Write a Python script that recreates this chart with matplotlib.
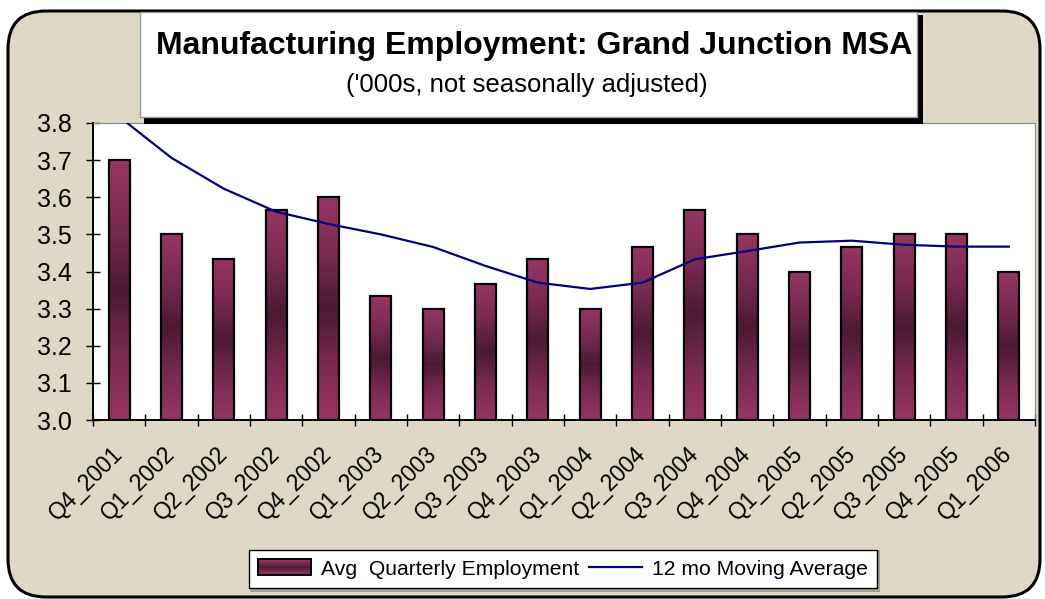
import numpy as np
import matplotlib
matplotlib.use("Agg")
import matplotlib.pyplot as plt
from matplotlib.patches import FancyBboxPatch, Rectangle
from matplotlib.transforms import IdentityTransform
from matplotlib.legend_handler import HandlerPatch
from matplotlib.colors import LinearSegmentedColormap

plt.rcParams['font.family'] = ['Liberation Sans', 'DejaVu Sans']

quarters = ['Q4_2001', 'Q1_2002', 'Q2_2002', 'Q3_2002', 'Q4_2002', 'Q1_2003',
            'Q2_2003', 'Q3_2003', 'Q4_2003', 'Q1_2004', 'Q2_2004', 'Q3_2004',
            'Q4_2004', 'Q1_2005', 'Q2_2005', 'Q3_2005', 'Q4_2005', 'Q1_2006']
employment = [3.700, 3.500, 3.433, 3.567, 3.600, 3.333, 3.300, 3.367, 3.433,
              3.300, 3.467, 3.567, 3.500, 3.400, 3.467, 3.500, 3.500, 3.400]
moving_avg = [3.817, 3.706, 3.623, 3.561, 3.528, 3.500, 3.466, 3.415, 3.370,
              3.353, 3.370, 3.433, 3.455, 3.478, 3.483, 3.472, 3.467, 3.467]
y_ticks = [3.0, 3.1, 3.2, 3.3, 3.4, 3.5, 3.6, 3.7, 3.8]

W, H = 1045, 599
light = '#973563'
dark = '#4a1a32'
cmap = LinearSegmentedColormap.from_list('bar', [light, '#7a2a52', dark, '#7a2a52', light])


def px(x, y):
    # image pixel coords (origin top-left) -> display coords
    return x, H - y


fig = plt.figure(figsize=(W / 100, H / 100), dpi=100)
fig.patch.set_facecolor('white')
ident = IdentityTransform()

# parchment background with rounded border
bx, by = px(8, 597)
bg = FancyBboxPatch((bx, by), 1032, 586, boxstyle="round,pad=0,rounding_size=38",
                    transform=ident, fc='#e0d8c6', ec='black', lw=2.2, zorder=-5)
fig.add_artist(bg)

ax = fig.add_axes([93 / W, 1 - 420 / H, (1035 - 93) / W, (420 - 123) / H])
ax.set_facecolor('white')

x = np.arange(len(quarters))
base = y_ticks[0]
bars = ax.bar(x, np.array(employment) - base, bottom=base, width=0.4,
              facecolor='none', edgecolor='black', linewidth=1.6, zorder=3)
grad = np.linspace(0, 1, 256).reshape(-1, 1)
for b in bars:
    bx0, by0 = b.get_x(), b.get_y()
    im = ax.imshow(grad, cmap=cmap, aspect='auto', zorder=2,
                   extent=[bx0, bx0 + b.get_width(), by0, by0 + b.get_height()])
    im.set_clip_path(b)

line, = ax.plot(x, moving_avg, color='#000080', lw=1.6, zorder=4)

ax.set_xlim(-0.5, len(quarters) - 0.5)
ax.set_ylim(3.0, 3.8)
ax.set_yticks(y_ticks)
ax.set_yticklabels([f'{v:.1f}' for v in y_ticks], fontsize=18)
ax.set_xticks(x)
ax.set_xticklabels(quarters, rotation=45, ha='right', va='center',
                   rotation_mode='anchor', fontsize=16.5)
ax.set_xticks(np.arange(-0.5, len(quarters), 1.0), minor=True)
ax.tick_params(axis='x', which='major', length=0, pad=22)
ax.tick_params(axis='x', which='minor', length=9, direction='inout', width=1)
ax.tick_params(axis='y', length=10, direction='inout', width=1, pad=10)
for s in ['top', 'right']:
    ax.spines[s].set_color('#888888')
for s in ['left', 'bottom']:
    ax.spines[s].set_color('black')
    ax.spines[s].set_linewidth(1.4)

# title box with shadow
sx, sy = px(144, 124)
fig.add_artist(Rectangle((sx, sy), 923 - 144, 124 - 15, transform=ident,
                         fc='black', ec='none', zorder=5))
tx, ty = px(140, 117)
fig.add_artist(Rectangle((tx, ty), 917 - 140, 117 - 12, transform=ident,
                         fc='white', ec='#999999', lw=1, zorder=6))
fig.text(*px(534, 46), 'Manufacturing Employment: Grand Junction MSA',
         transform=ident, ha='center', va='center', fontsize=23,
         fontweight='bold', zorder=7)
fig.text(*px(527, 85), "('000s, not seasonally adjusted)",
         transform=ident, ha='center', va='center', fontsize=18.5, zorder=7)


class GradHandler(HandlerPatch):
    def create_artists(self, legend, orig_handle, xdescent, ydescent,
                       width, height, fontsize, trans):
        arts = []
        n = 12
        for i in range(n):
            c = cmap((i + 0.5) / n)
            r = Rectangle((-xdescent, -ydescent + height * i / n), width, height / n,
                          fc=c, ec='none', transform=trans)
            arts.append(r)
        arts.append(Rectangle((-xdescent, -ydescent), width, height, fc='none',
                              ec='black', lw=1.4, transform=trans))
        return arts


# legend shadow
lx, ly = px(250, 592)
fig.add_artist(Rectangle((lx, ly), 880 - 250, 592 - 550, transform=ident,
                         fc='#a8a196', ec='none', zorder=7))

leg = fig.legend([bars, line],
                 ['Avg  Quarterly Employment', '12 mo Moving Average'],
                 ncol=2, loc='center', bbox_to_anchor=(563 / W, 1 - 569 / H),
                 fontsize=15.2, frameon=True,
                 fancybox=False, edgecolor='black', framealpha=1,
                 facecolor='white', handlelength=2.5,
                 handleheight=0.75, handletextpad=0.45, columnspacing=0.5,
                 borderpad=0.45, borderaxespad=0,
                 handler_map={type(bars): GradHandler()})
leg.get_frame().set_linewidth(1.0)
leg.set_zorder(8)

fig.savefig('out.png', dpi=100, facecolor='white')
